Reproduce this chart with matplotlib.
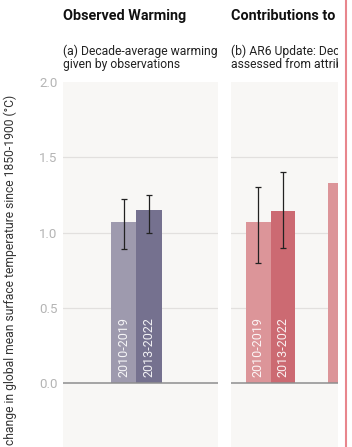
import matplotlib.pyplot as plt
from matplotlib.patches import Rectangle
from matplotlib.lines import Line2D

plt.rcParams['font.family'] = ['Roboto', 'DejaVu Sans']

# decade-average warming, observations
periods = ['2010-2019', '2013-2022']
obs_mean = [1.07, 1.15]
obs_low = [0.89, 1.00]
obs_high = [1.22, 1.25]

# attributable (human-induced) warming
att_mean = [1.07, 1.14]
att_low = [0.80, 0.90]
att_high = [1.30, 1.40]
ghg_mean = 1.33

W, H = 352, 447
fig = plt.figure(figsize=(W / 100, H / 100), dpi=100)
fig.patch.set_facecolor('white')

bg = '#f8f7f5'
ylo, yhi = -0.425, 2.0


def px_axes(x0, x1):
    return fig.add_axes([x0 / W, 0, (x1 - x0) / W, (H - 82) / H])


def style(ax, show_ticks):
    ax.set_facecolor(bg)
    ax.set_ylim(ylo, yhi)
    for s in ax.spines.values():
        s.set_visible(False)
    ax.set_xticks([])
    ax.set_yticks([0, 0.5, 1.0, 1.5, 2.0])
    ax.tick_params(axis='y', length=0, pad=4, labelsize=9.5, labelcolor='#b4b4b4')
    if not show_ticks:
        ax.set_yticklabels([])
    else:
        ax.set_yticklabels(['0.0', '0.5', '1.0', '1.5', '2.0'])
    for v in [0.5, 1.0, 1.5]:
        ax.axhline(v, color='#e2e0de', lw=0.9, zorder=0)
    ax.axhline(0, color='#8e8e8e', lw=1.1, zorder=3)


def bars(ax, xs, means, lows, highs, colors):
    ax.bar(xs, means, width=1.0, color=colors, zorder=2)
    err = [[m - l for m, l in zip(means, lows)], [h - m for m, h in zip(means, highs)]]
    ax.errorbar(xs, means, yerr=err, fmt='none', ecolor='#222222',
                elinewidth=0.9, capsize=2.5, capthick=0.9, zorder=4)
    for x, lab in zip(xs, periods):
        ax.text(x, 0.04, lab, rotation=90, ha='center', va='bottom',
                color='white', alpha=0.9, fontsize=9, zorder=5)


# (a) observations
ax1 = px_axes(63, 218)
style(ax1, True)
ax1.set_xlim(-2.38, 3.7)
bars(ax1, [0, 1], obs_mean, obs_low, obs_high, ['#9e9aae', '#75718f'])

# (b) attribution
ax2 = px_axes(231, 386)
style(ax2, False)
ax2.set_xlim(-1.1, 5.16)
bars(ax2, [0, 1], att_mean, att_low, att_high, ['#dc9599', '#cc6a72'])
ax2.bar([3.3], [ghg_mean], width=1.0, color='#dc9599', zorder=2)

# headings
fig.text(63 / W, 1 - 16 / H, 'Observed Warming', fontsize=10.4, fontweight='bold',
         color='#111111', va='center', ha='left')
fig.text(231 / W, 1 - 16 / H, 'Contributions to Observed Warming', fontsize=10.4,
         fontweight='bold', color='#111111', va='center', ha='left')
fig.text(63 / W, 1 - 58 / H, '(a) Decade-average warming\ngiven by observations',
         fontsize=8.7, color='#222222', va='center', ha='left', linespacing=1.05)
fig.text(231 / W, 1 - 58 / H,
         '(b) AR6 Update: Decade-average warming\nassessed from attributable drivers',
         fontsize=8.7, color='#222222', va='center', ha='left', linespacing=1.05)

fig.text(10.5 / W, 1 - 95 / H,
         'change in global mean surface temperature since 1850-1900 (°C)',
         rotation=90, ha='center', va='top', fontsize=8.7, color='#333333')

# page edge on the right
fig.patches.append(Rectangle((338 / W, 0), (W - 338) / W, 1, transform=fig.transFigure,
                             facecolor='white', edgecolor='none', zorder=10))
fig.lines.append(Line2D([345.7 / W, 345.7 / W], [0, 1], transform=fig.transFigure,
                        color='#e8868d', lw=1.5, zorder=11))

fig.savefig('out.png', dpi=100)
